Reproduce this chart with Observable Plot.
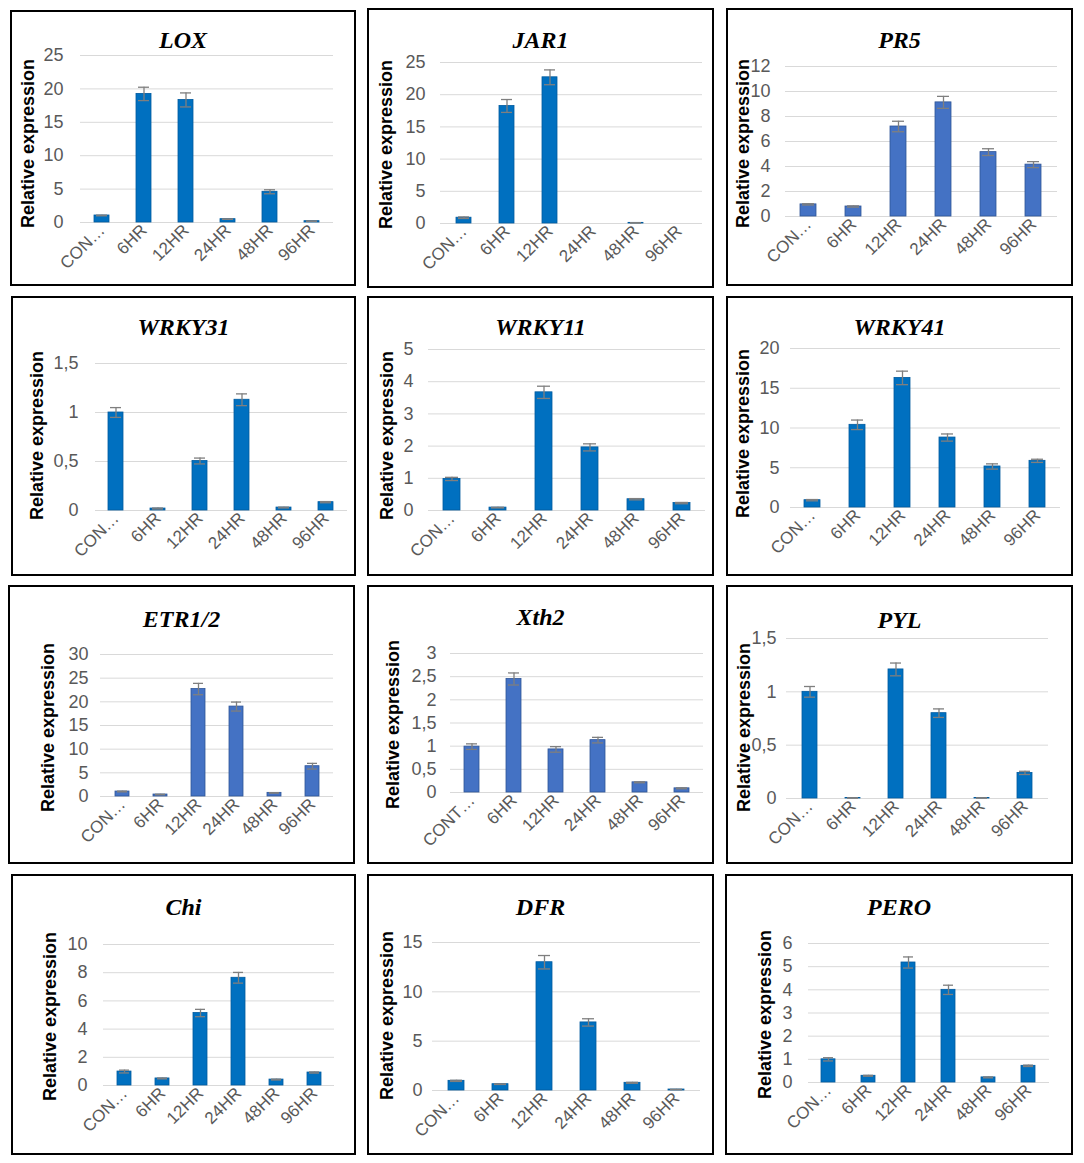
<!DOCTYPE html>
<html><head><meta charset="utf-8">
<script src="https://cdn.jsdelivr.net/npm/d3@7"></script>
<script src="https://cdn.jsdelivr.net/npm/@observablehq/plot@0.6"></script>
<style>
body{margin:0;background:#fff}
#root{position:relative;width:1084px;height:1163px;background:#fff}
.panel{position:absolute;box-sizing:border-box;border:2px solid #000;background:#fff}
.title{position:absolute;left:0;right:0;text-align:center;font:italic bold 24px "Liberation Serif",serif;color:#000;line-height:28px;z-index:2}
.panel svg{position:absolute;left:0;top:0}
</style></head>
<body><div id="root"></div>
<script>
// ---- data ----
const categories = ["CONTROL","6HR","12HR","24HR","48HR","96HR"];
const genes = ["LOX","JAR1","PR5","WRKY31","WRKY11","WRKY41","ETR1/2","Xth2","PYL","Chi","DFR","PERO"];
const firstLabels = ["CON…","CON…","CON…","CON…","CON…","CON…","CON…","CONT…","CON…","CON…","CON…","CON…"];
const LOX      = [1.05, 19.25, 18.35, 0.5, 4.6, 0.2];
const LOX_err  = [0.05, 1.0, 1.05, 0.03, 0.3, 0.02];
const JAR1     = [0.9, 18.25, 22.7, 0, 0.1, 0];
const JAR1_err = [0.12, 1.0, 1.15, 0, 0.02, 0];
const PR5      = [0.97, 0.8, 7.2, 9.13, 5.15, 4.15];
const PR5_err  = [0.05, 0.05, 0.42, 0.48, 0.27, 0.24];
const WRKY31     = [1.0, 0.02, 0.505, 1.13, 0.03, 0.085];
const WRKY31_err = [0.05, 0.005, 0.03, 0.06, 0.004, 0.006];
const WRKY11     = [0.98, 0.09, 3.67, 1.96, 0.35, 0.23];
const WRKY11_err = [0.05, 0.01, 0.19, 0.11, 0.02, 0.02];
const WRKY41     = [0.92, 10.4, 16.3, 8.8, 5.16, 5.87];
const WRKY41_err = [0.08, 0.6, 0.85, 0.45, 0.33, 0.2];
const ETR12      = [1.05, 0.42, 22.7, 19.0, 0.77, 6.4];
const ETR12_err  = [0.08, 0.05, 1.2, 0.95, 0.05, 0.6];
const Xth2       = [0.99, 2.45, 0.93, 1.13, 0.22, 0.09];
const Xth2_err   = [0.06, 0.13, 0.06, 0.06, 0.01, 0.01];
const PYL        = [1.0, 0.005, 1.21, 0.8, 0.005, 0.24];
const PYL_err    = [0.05, 0.002, 0.06, 0.04, 0.002, 0.015];
const Chi        = [0.99, 0.5, 5.14, 7.64, 0.42, 0.92];
const Chi_err    = [0.1, 0.03, 0.26, 0.38, 0.03, 0.04];
const DFR        = [0.98, 0.64, 13.0, 6.9, 0.78, 0.1];
const DFR_err    = [0.06, 0.03, 0.68, 0.37, 0.05, 0.02];
const PERO       = [1.0, 0.29, 5.18, 4.0, 0.22, 0.72];
const PERO_err   = [0.07, 0.02, 0.24, 0.2, 0.02, 0.03];
const values = [LOX, JAR1, PR5, WRKY31, WRKY11, WRKY41, ETR12, Xth2, PYL, Chi, DFR, PERO];
const errors = [LOX_err, JAR1_err, PR5_err, WRKY31_err, WRKY11_err, WRKY41_err, ETR12_err, Xth2_err, PYL_err, Chi_err, DFR_err, PERO_err];
const yTicks = [
  [0,5,10,15,20,25],[0,5,10,15,20,25],[0,2,4,6,8,10,12],
  [0,0.5,1,1.5],[0,1,2,3,4,5],[0,5,10,15,20],
  [0,5,10,15,20,25,30],[0,0.5,1,1.5,2,2.5,3],[0,0.5,1,1.5],
  [0,2,4,6,8,10],[0,5,10,15],[0,1,2,3,4,5,6]
];
const yLabel = "Relative expression";

// ---- layout (page px): box l,t,r,b ; plot x0,yTop,x1,y0 ; yLabel center x ; tick padding ----
const layout = [
  [10,10,356,286, 80,55,333,222, 28,17],
  [367,8,714,288, 440,62,702,223, 386,15],
  [726,8,1073,286, 785,66,1057,216, 743,15],
  [11,296,356,576, 95,363,347,510, 37,17],
  [367,296,714,576, 428,349,705,510, 387,15],
  [726,296,1073,576, 790,348,1060,507, 743,11],
  [8,585,355,864, 100,654,333,796, 48,12],
  [367,585,714,864, 450,653,703,792, 393,14],
  [726,585,1073,864, 786,638,1048,798, 744,10],
  [11,874,356,1155, 103,944,334,1085, 50,16],
  [367,874,714,1155, 432,942,700,1090, 387,10],
  [725,874,1073,1155, 808,943,1049,1082, 765,16]
];
const labelY = [143, 144, 143, 435, 435, 433, 727, 724, 727, 1016, 1015, 1014];
const titleY = [30,32,32,31,31,31,34,32,35,33,33,33];
const lightBlue = new Set(["PR5","ETR1/2","Xth2"]);

const root = document.getElementById("root");
const fmt = d => String(d).replace(".", ",");

genes.forEach((g, i) => {
  const [l,t,r,b,x0,yT,x1,y0,lx,tp] = layout[i];
  const W = r - l - 4, H = b - t - 4;
  const ox = l + 2, oy = t + 2;
  const panel = document.createElement("div");
  panel.className = "panel";
  Object.assign(panel.style, {left: l+"px", top: t+"px", width: (r-l)+"px", height: (b-t)+"px"});
  const title = document.createElement("div");
  title.className = "title";
  title.textContent = g;
  title.style.top = (titleY[i] - 2 - 14) + "px";
  panel.appendChild(title);

  const data = categories.map((c, k) => ({cat: c, v: values[i][k], e: errors[i][k]}));
  const ticks = yTicks[i];
  const fill = lightBlue.has(g) ? "#4472C4" : "#0070C0";
  const stroke = lightBlue.has(g) ? "#2F5597" : "#005A9E";
  const labels = new Map(categories.map((c, k) => [c, k === 0 ? firstLabels[i] : c]));
  const midY = (yT + y0) / 2;

  const chart = Plot.plot({
    width: W, height: H,
    marginLeft: x0 - ox, marginRight: W - (x1 - ox),
    marginTop: yT - oy, marginBottom: H - (y0 - oy),
    style: {fontFamily: "'Liberation Sans', Arial, sans-serif", background: "transparent", overflow: "visible", color: "#595959"},
    x: {domain: categories, paddingInner: 0.64, paddingOuter: 0.32, axis: null},
    y: {domain: [0, ticks[ticks.length-1]], axis: null},
    marks: [
      Plot.gridY(ticks, {stroke: "#d9d9d9", strokeOpacity: 1, strokeWidth: 1}),
      Plot.axisY(ticks, {tickSize: 0, tickPadding: tp, tickFormat: fmt, fontSize: 18, fill: "#595959", label: null}),
      Plot.axisX(categories, {tickSize: 0, tickPadding: 5, tickRotate: -45, tickFormat: d => labels.get(d), fontSize: 17, fill: "#595959", label: null}),
      Plot.barY(data.filter(d => d.v > 0), {x: "cat", y: "v", fill, stroke, strokeWidth: 0.8}),
      Plot.ruleX(data.filter(d => d.e > 0), {x: "cat", y1: d => d.v - d.e, y2: d => d.v + d.e, stroke: "#7f7f7f", strokeWidth: 1.3}),
      Plot.tickY(data.filter(d => d.e > 0), {x: "cat", y: d => d.v + d.e, stroke: "#7f7f7f", strokeWidth: 1.3, insetLeft: 2, insetRight: 2}),
      Plot.tickY(data.filter(d => d.e > 0), {x: "cat", y: d => d.v - d.e, stroke: "#7f7f7f", strokeWidth: 1.3, insetLeft: 2, insetRight: 2}),
      Plot.text([yLabel], {frameAnchor: "left", text: d => d, rotate: -90, textAnchor: "middle", lineAnchor: "middle", dx: -(x0 - lx), dy: labelY[i] - midY, fontSize: 18, fontWeight: "bold", fill: "#000"})
    ]
  });
  panel.appendChild(chart);
  root.appendChild(panel);
});
</script>
</body></html>
